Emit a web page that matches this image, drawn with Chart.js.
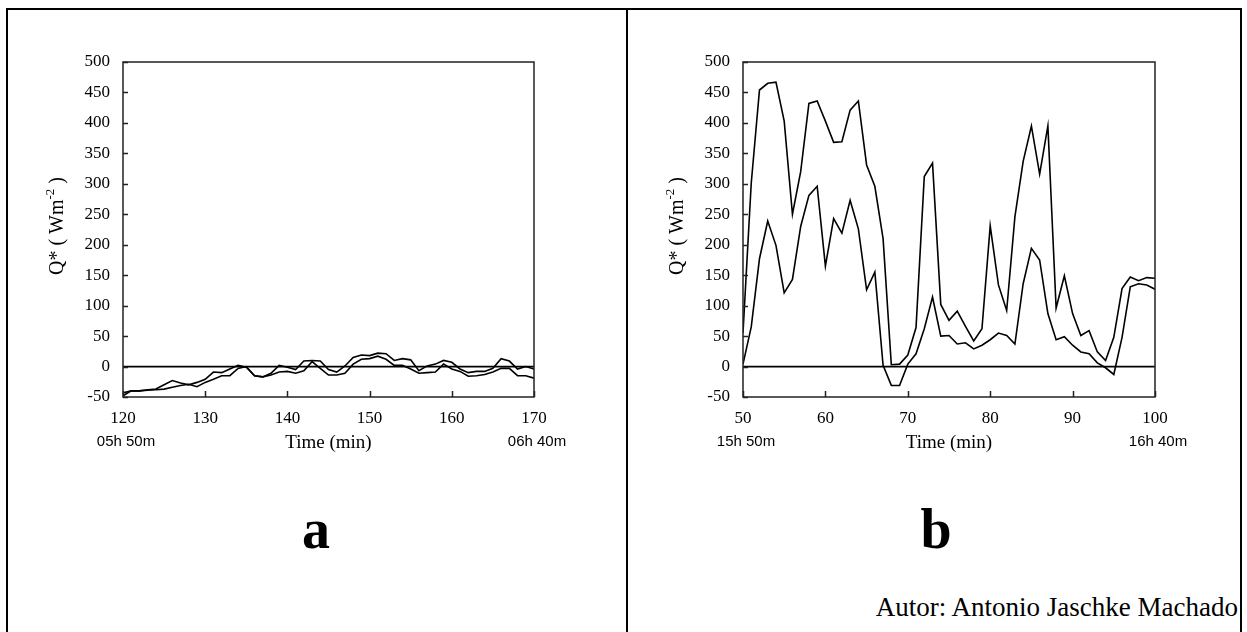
<!DOCTYPE html>
<html>
<head>
<meta charset="utf-8">
<script src="https://cdn.jsdelivr.net/npm/chart.js@4.4.0/dist/chart.umd.min.js"></script>
<style>
  body { margin: 0; background: #fff; width: 1247px; height: 632px; overflow: hidden; position: relative; }
  .frame { position: absolute; left: 6px; top: 8px; width: 1232px; height: 660px; border: 2px solid #000; }
  .divider { position: absolute; left: 626px; top: 8px; width: 2px; height: 660px; background: #000; }
  canvas { position: absolute; top: 10px; }
  #chartA { left: 8px; }
  #chartB { left: 629px; }
  .letter { position: absolute; top: 501px; width: 100px; text-align: center; font: bold 56px/56px "Liberation Serif", serif; color: #000; }
  .autor { position: absolute; top: 594px; right: 9px; font: 27px/27px "Liberation Serif", serif; color: #000; }
</style>
</head>
<body>
<div class="frame"></div>
<div class="divider"></div>
<canvas id="chartA" width="618" height="490"></canvas>
<canvas id="chartB" width="612" height="490"></canvas>
<div class="letter" style="left:266px">a</div>
<div class="letter" style="left:886px">b</div>
<div class="autor">Autor: Antonio Jaschke Machado</div>
<script>
// panel a : 05h50 - 06h40
const minutesA = [120, 121, 122, 123, 124, 125, 126, 127, 128, 129, 130, 131, 132, 133, 134, 135, 136, 137, 138, 139,
    140, 141, 142, 143, 144, 145, 146, 147, 148, 149, 150, 151, 152, 153, 154, 155, 156, 157, 158, 159,
    160, 161, 162, 163, 164, 165, 166, 167, 168, 169, 170];
const qA1 = [-43, -40, -40, -38, -37, -30, -23, -27, -30, -26, -21, -9, -10, -4, 2, -1, -15, -17, -11, 2,
    -1, -5, 9, 10, 9, -5, -9, 1, 15, 19, 18, 22, 21, 10, 13, 11, -7, 1, 4, 10,
    7, -4, -10, -8, -8, -3, 13, 9, -4, 0, -4];
const qA2 = [-48, -40, -40, -39, -38, -37, -34, -31, -29, -33, -26, -21, -15, -15, -3, 0, -15, -17, -14, -9,
    -8, -11, -7, 8, -3, -14, -14, -11, 4, 12, 13, 17, 12, 2, 2, -4, -11, -10, -9, 4,
    -4, -8, -16, -15, -13, -9, -3, -3, -15, -15, -19];

// panel b : 15h50 - 16h40
const minutesB = [50, 51, 52, 53, 54, 55, 56, 57, 58, 59, 60, 61, 62, 63, 64, 65, 66, 67, 68, 69,
    70, 71, 72, 73, 74, 75, 76, 77, 78, 79, 80, 81, 82, 83, 84, 85, 86, 87, 88, 89,
    90, 91, 92, 93, 94, 95, 96, 97, 98, 99, 100];
const qB1 = [55, 301, 454, 465, 467, 403, 250, 320, 432, 436, 403, 368, 369, 421, 436, 331, 296, 210, 3, 4,
    19, 64, 312, 334, 102, 76, 91, 66, 42, 62, 231, 134, 92, 246, 337, 395, 316, 395, 96, 149,
    87, 51, 59, 24, 10, 48, 128, 147, 141, 146, 145];
const qB2 = [4, 65, 177, 239, 199, 121, 143, 230, 281, 296, 165, 243, 219, 273, 226, 126, 155, 2, -31, -31,
    4, 21, 62, 114, 50, 51, 37, 39, 29, 35, 44, 55, 51, 37, 136, 194, 175, 87, 44, 49,
    35, 24, 21, 6, -2, -13, 48, 131, 136, 134, 127];

const clockA = ['05h 50m', '06h 40m'];
const clockB = ['15h 50m', '16h 40m'];
const yMin = -50;
const yMax = 500;
const yStep = 50;
const xStep = 10;
const xTitle = 'Time (min)';

const serif = "'Liberation Serif', 'Times New Roman', serif";
const sans = "'Liberation Sans', Arial, sans-serif";

function toPoints(xs, ys) {
    return xs.map((m, i) => ({ x: m, y: ys[i] }));
}

// box, zero line, inward ticks and the texts under/left of the axes
const panelDecor = {
    id: 'panelDecor',
    beforeDatasetsDraw(chart) {
        const { ctx, chartArea: a, scales: { y } } = chart;
        const y0 = y.getPixelForValue(0);
        ctx.save();
        ctx.strokeStyle = '#000';
        ctx.lineWidth = 1.8;
        ctx.beginPath();
        ctx.moveTo(a.left, y0);
        ctx.lineTo(a.right, y0);
        ctx.stroke();
        ctx.restore();
    },
    afterDraw(chart, args, opts) {
        const { ctx, chartArea: a, scales: { x, y } } = chart;
        ctx.save();
        ctx.strokeStyle = '#222';
        ctx.lineWidth = 1.5;
        ctx.strokeRect(a.left, a.top, a.right - a.left, a.bottom - a.top);

        ctx.beginPath();
        y.ticks.forEach(t => {
            const py = Math.round(y.getPixelForValue(t.value)) + 0.5;
            ctx.moveTo(a.left, py);
            ctx.lineTo(a.left + 5, py);
        });
        x.ticks.forEach(t => {
            const px = Math.round(x.getPixelForValue(t.value)) + 0.5;
            ctx.moveTo(px, a.bottom);
            ctx.lineTo(px, a.bottom - 6);
        });
        ctx.stroke();

        ctx.fillStyle = '#000';
        ctx.textBaseline = 'middle';
        ctx.textAlign = 'center';
        const rowY = a.bottom + 45;
        ctx.font = '15px ' + sans;
        ctx.fillText(opts.clock[0], x.getPixelForValue(x.min) + 3, rowY);
        ctx.fillText(opts.clock[1], x.getPixelForValue(x.max) + 3, rowY);
        ctx.font = '19px ' + serif;
        ctx.fillText(xTitle, (a.left + a.right) / 2, rowY + 1);

        // Q* ( Wm-2 ) rotated
        ctx.translate(a.left - 67, 216);
        ctx.rotate(-Math.PI / 2);
        ctx.textAlign = 'left';
        ctx.textBaseline = 'alphabetic';
        const big = '20px ' + serif;
        const small = '13px ' + serif;
        const p1 = 'Q* ( Wm', p2 = '-2', p3 = ' )';
        ctx.font = big;
        const w1 = ctx.measureText(p1).width, w3 = ctx.measureText(p3).width;
        ctx.font = small;
        const w2 = ctx.measureText(p2).width;
        let cx = -(w1 + w2 + w3) / 2;
        const base = 7;
        ctx.font = big;
        ctx.fillText(p1, cx, base);
        cx += w1;
        ctx.font = small;
        ctx.fillText(p2, cx, base - 9);
        cx += w2;
        ctx.font = big;
        ctx.fillText(p3, cx, base);
        ctx.restore();
    }
};

function createPanelChart(canvasId, minutes, series1, series2, clock, rightPad, yWidth) {
    const ctx = document.querySelector(canvasId).getContext('2d');
    const lineStyle = { borderColor: '#000', borderWidth: 1.6, pointRadius: 0, tension: 0, fill: false };
    return new Chart(ctx, {
        type: 'line',
        data: {
            datasets: [
                Object.assign({ data: toPoints(minutes, series1) }, lineStyle),
                Object.assign({ data: toPoints(minutes, series2) }, lineStyle)
            ]
        },
        options: {
            responsive: false,
            animation: false,
            devicePixelRatio: 1,
            layout: { padding: { top: 52, right: rightPad, left: 0, bottom: 0 } },
            plugins: {
                legend: { display: false },
                tooltip: { enabled: false },
                panelDecor: { clock: clock }
            },
            scales: {
                x: {
                    type: 'linear',
                    min: minutes[0],
                    max: minutes[minutes.length - 1],
                    grid: { display: false },
                    border: { display: false },
                    ticks: { stepSize: xStep, color: '#000', font: { family: serif, size: 17 }, padding: 3, maxRotation: 0 },
                    afterFit: s => { s.height = 103; }
                },
                y: {
                    min: yMin,
                    max: yMax,
                    grid: { display: false },
                    border: { display: false },
                    ticks: { stepSize: yStep, color: '#000', font: { family: serif, size: 17 }, padding: 5 },
                    afterFit: s => { s.width = yWidth; }
                }
            }
        },
        plugins: [panelDecor]
    });
}

createPanelChart('#chartA', minutesA, qA1, qA2, clockA, 92, 115);
createPanelChart('#chartB', minutesB, qB1, qB2, clockB, 86, 114);
</script>
</body>
</html>
